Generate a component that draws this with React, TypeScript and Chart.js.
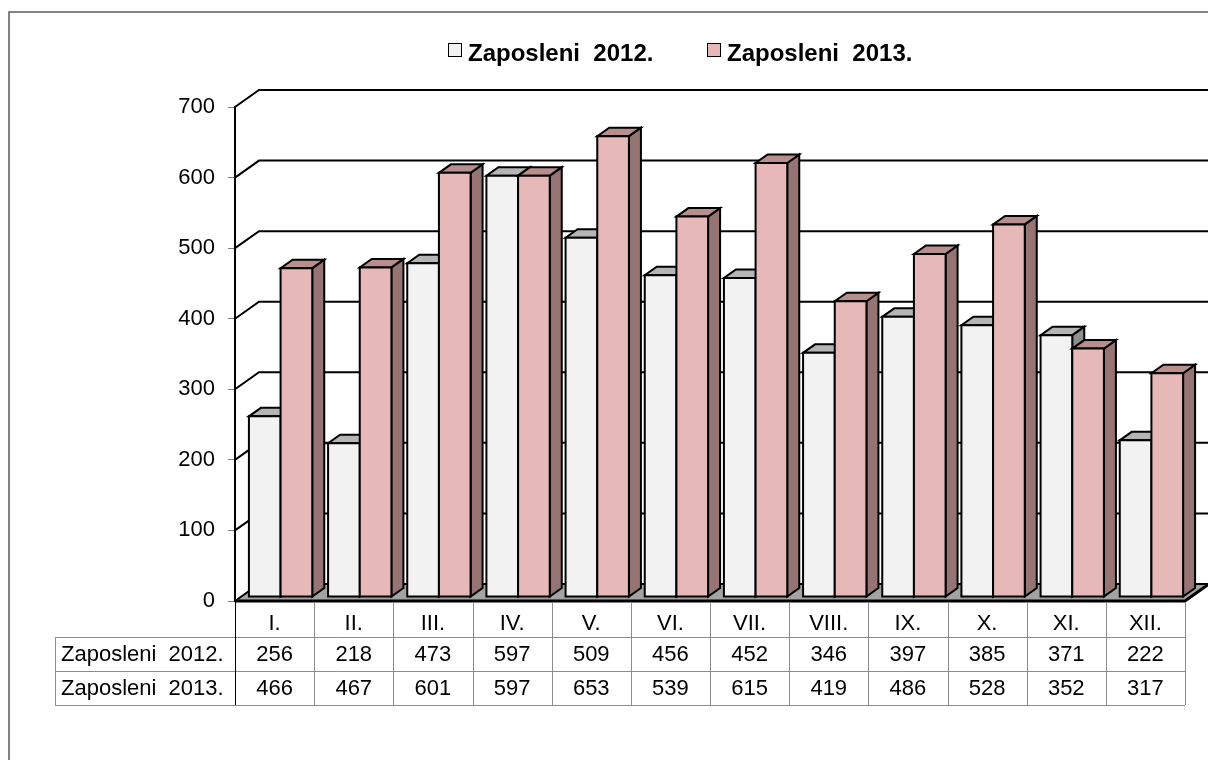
import React, { useEffect, useRef } from "react";
import { Chart, registerables } from "chart.js";

Chart.register(...registerables);

const categories = ["I.", "II.", "III.", "IV.", "V.", "VI.", "VII.", "VIII.", "IX.", "X.", "XI.", "XII."];
const series2012 = [256, 218, 473, 597, 509, 456, 452, 346, 397, 385, 371, 222];
const series2013 = [466, 467, 601, 597, 653, 539, 615, 419, 486, 528, 352, 317];
const seriesLabels = ["Zaposleni  2012.", "Zaposleni  2013."];
const yTickValues = [0, 100, 200, 300, 400, 500, 600, 700];

const FONT = "'Liberation Sans', Arial, sans-serif";
const frontColors = ["#f2f2f2", "#e6b9b8"];
const topColors = ["#b5b5b5", "#b98f8e"];
const sideColors = ["#8f8f8f", "#967473"];

// 3D geometry
const WALL_DX = 24;
const WALL_DY = -17;
const BAR_FX = 6;
const BAR_FY = -4;
const BAR_DX = 12;
const BAR_DY = -8.5;

const threeD = {
  id: "threeD",
  beforeDatasetsDraw(chart: any) {
    const { ctx, chartArea, scales } = chart;
    const { left, right, bottom } = chartArea;
    const y = scales.y;
    ctx.save();
    // floor
    ctx.beginPath();
    ctx.moveTo(left, bottom);
    ctx.lineTo(right, bottom);
    ctx.lineTo(right + WALL_DX, bottom + WALL_DY);
    ctx.lineTo(left + WALL_DX, bottom + WALL_DY);
    ctx.closePath();
    ctx.fillStyle = "#a3a3a3";
    ctx.fill();
    // wall grid lines
    ctx.strokeStyle = "#000";
    ctx.lineWidth = 2;
    for (const v of yTickValues) {
      const py = y.getPixelForValue(v);
      ctx.beginPath();
      ctx.moveTo(left, py);
      ctx.lineTo(left + WALL_DX, py + WALL_DY);
      ctx.lineTo(right + WALL_DX + 40, py + WALL_DY);
      ctx.stroke();
    }
    // floor edges
    ctx.lineWidth = 3;
    ctx.beginPath();
    ctx.moveTo(left, bottom);
    ctx.lineTo(right, bottom);
    ctx.lineTo(right + WALL_DX, bottom + WALL_DY);
    ctx.stroke();

    // bars
    ctx.lineWidth = 2;
    ctx.lineJoin = "miter";
    const n = categories.length;
    for (let i = 0; i < n; i++) {
      for (let d = 0; d < chart.data.datasets.length; d++) {
        const el = chart.getDatasetMeta(d).data[i];
        const p = el.getProps(["x", "y", "base", "width"], true);
        const x0 = p.x - p.width / 2 + BAR_FX;
        const x1 = p.x + p.width / 2 + BAR_FX;
        const yt = p.y + BAR_FY;
        const yb = p.base + BAR_FY;
        // side
        ctx.beginPath();
        ctx.moveTo(x1, yt);
        ctx.lineTo(x1 + BAR_DX, yt + BAR_DY);
        ctx.lineTo(x1 + BAR_DX, yb + BAR_DY);
        ctx.lineTo(x1, yb);
        ctx.closePath();
        ctx.fillStyle = sideColors[d];
        ctx.fill();
        ctx.stroke();
        // top
        ctx.beginPath();
        ctx.moveTo(x0, yt);
        ctx.lineTo(x1, yt);
        ctx.lineTo(x1 + BAR_DX, yt + BAR_DY);
        ctx.lineTo(x0 + BAR_DX, yt + BAR_DY);
        ctx.closePath();
        ctx.fillStyle = topColors[d];
        ctx.fill();
        ctx.stroke();
        // front
        ctx.beginPath();
        ctx.rect(x0, yt, x1 - x0, yb - yt);
        ctx.fillStyle = frontColors[d];
        ctx.fill();
        ctx.stroke();
      }
    }
    ctx.restore();
    return false;
  },
  afterDraw(chart: any) {
    const { ctx, chartArea, scales } = chart;
    const { left, right, bottom } = chartArea;
    const x = scales.x;
    const n = categories.length;
    const colW = (right - left) / n;
    const tableLeft = 55;
    const r1 = 637;
    const r2 = 671;
    const r3 = 705;
    ctx.save();
    // table lines
    ctx.strokeStyle = "#8c8c8c";
    ctx.lineWidth = 1;
    for (const ry of [r1, r2, r3]) {
      ctx.beginPath();
      ctx.moveTo(tableLeft, ry + 0.5);
      ctx.lineTo(right, ry + 0.5);
      ctx.stroke();
    }
    ctx.beginPath();
    ctx.moveTo(tableLeft + 0.5, r1);
    ctx.lineTo(tableLeft + 0.5, r3);
    ctx.stroke();
    for (let i = 1; i <= n; i++) {
      const cx = Math.round(left + i * colW) + 0.5;
      ctx.beginPath();
      ctx.moveTo(cx, bottom + 1);
      ctx.lineTo(cx, r3);
      ctx.stroke();
    }
    ctx.strokeStyle = "#000";
    ctx.beginPath();
    ctx.moveTo(left + 0.5, bottom);
    ctx.lineTo(left + 0.5, r3);
    ctx.stroke();

    // table text
    ctx.fillStyle = "#000";
    ctx.font = `22px ${FONT}`;
    ctx.textBaseline = "middle";
    ctx.textAlign = "center";
    for (let i = 0; i < n; i++) {
      const cx = x.getPixelForValue(i);
      ctx.fillText(categories[i], cx, 624);
      ctx.fillText(String(series2012[i]), cx, (r1 + r2) / 2 + 1);
      ctx.fillText(String(series2013[i]), cx, (r2 + r3) / 2 + 1);
    }
    ctx.textAlign = "left";
    ctx.fillText(seriesLabels[0], 61, (r1 + r2) / 2 + 1);
    ctx.fillText(seriesLabels[1], 61, (r2 + r3) / 2 + 1);

    // legend
    const legendItems = [
      { bx: 448, tx: 468 },
      { bx: 707, tx: 727 },
    ];
    ctx.font = `bold 24px ${FONT}`;
    ctx.textBaseline = "alphabetic";
    legendItems.forEach((it, d) => {
      ctx.fillStyle = frontColors[d];
      ctx.fillRect(it.bx, 43, 14, 14);
      ctx.strokeStyle = "#000";
      ctx.lineWidth = 1;
      ctx.strokeRect(it.bx + 0.5, 43.5, 13, 13);
      ctx.fillStyle = "#000";
      ctx.fillText(seriesLabels[d], it.tx, 61);
    });

    // outer frame
    ctx.strokeStyle = "#595959";
    ctx.lineWidth = 1.5;
    ctx.beginPath();
    ctx.moveTo(9, 800);
    ctx.lineTo(9, 12);
    ctx.lineTo(1300, 12);
    ctx.stroke();
    ctx.restore();
  },
};

export default function App() {
  const ref = useRef<HTMLCanvasElement | null>(null);
  useEffect(() => {
    if (!ref.current) return;
    const chart = new Chart(ref.current, {
      type: "bar",
      data: {
        labels: categories,
        datasets: [
          {
            label: seriesLabels[0],
            data: series2012,
            backgroundColor: frontColors[0],
            categoryPercentage: 0.8,
            barPercentage: 1,
          },
          {
            label: seriesLabels[1],
            data: series2013,
            backgroundColor: frontColors[1],
            categoryPercentage: 0.8,
            barPercentage: 1,
          },
        ],
      },
      options: {
        animation: false,
        responsive: false,
        devicePixelRatio: 1,
        layout: { padding: { left: 175, top: 107, right: 23, bottom: 159 } },
        plugins: { legend: { display: false }, tooltip: { enabled: false } },
        scales: {
          x: { display: false },
          y: {
            min: 0,
            max: 700,
            afterFit: (scale: any) => {
              scale.width = 60;
            },
            ticks: {
              stepSize: 100,
              color: "#000",
              padding: 13,
              font: { family: FONT, size: 22 },
            },
            grid: {
              drawOnChartArea: false,
              drawTicks: true,
              tickLength: 7,
              color: "#808080",
              lineWidth: 1,
            },
            border: { display: true, color: "#000", width: 2 },
          },
        },
      },
      plugins: [threeD],
    });
    return () => chart.destroy();
  }, []);
  return (
    <div style={{ position: "absolute", left: 0, top: 0, width: 1208, height: 760, background: "#fff" }}>
      <canvas ref={ref} width={1208} height={760} />
    </div>
  );
}
